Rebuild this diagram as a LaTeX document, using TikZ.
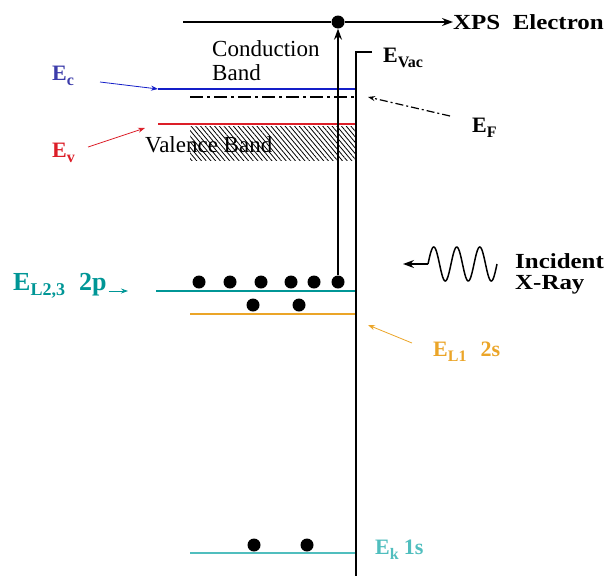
\documentclass[tikz,border=0pt]{standalone}
\usepackage{fontspec}
\setmainfont{Liberation Serif}
\newfontfamily\widebf[FakeStretch=1.16]{Liberation Serif}
\usetikzlibrary{arrows.meta,patterns.meta}
\definecolor{cblue}{RGB}{20,30,200}
\definecolor{clabelblue}{RGB}{60,60,170}
\definecolor{cred}{RGB}{220,30,40}
\definecolor{cteal}{RGB}{0,150,150}
\definecolor{corange}{RGB}{235,165,40}
\definecolor{ccyan}{RGB}{80,190,190}
\newcommand\sbs[1]{\raisebox{-5pt}{\fontsize{16}{16}\selectfont #1}}
\begin{document}
\begin{tikzpicture}[x=1pt,y=-1pt,
  electron/.style={circle,fill=black,inner sep=0pt,minimum size=13pt},
  level/.style={line width=2pt},
  lbl/.style={font=\fontsize{22}{24}\selectfont\bfseries, inner sep=0pt, anchor=west},
  widelbl/.style={font=\widebf\fontsize{21.5}{21}\selectfont\bfseries, inner sep=0pt, anchor=west, align=left},
  txt/.style={font=\fontsize{23}{24}\selectfont, inner sep=0pt, anchor=west, align=left},
  arr/.style={-{Stealth[length=11pt,width=8pt]}, line width=1.2pt},
  thinarr/.style={-{Stealth[length=7pt,width=5pt]}, line width=0.8pt},
  wall/.style={line width=1.4pt},
]
\useasboundingbox (0,0) rectangle (609,576);

% energy levels
\draw[level,cblue] (158,89) coordinate (ec0) -- (356,89) coordinate (ec1);
\draw[line width=1.5pt,dash pattern=on 13pt off 4pt on 3pt off 4pt] (190,97) coordinate (ef0) -- (356,97) coordinate (ef1);
\fill[pattern={Lines[angle=-50,distance=3.6pt,line width=0.8pt]}] (190,126) rectangle (356,160);
\draw[level,cred] (158,124) coordinate (ev0) -- (356,124) coordinate (ev1);
\draw[level,cteal] (156,291) coordinate (lp0) -- (356,291) coordinate (lp1);
\draw[level,corange] (190,314) coordinate (ls0) -- (356,314) coordinate (ls1);
\draw[level,ccyan] (190,553) coordinate (k0) -- (356,553) coordinate (k1);

% electrons
\foreach \n/\x in {1/199,2/230,3/261,4/291,5/314,6/338} \node[electron] (p\n) at (\x,282) {};
\node[electron] (s1) at (253,305) {};
\node[electron] (s2) at (299,305) {};
\node[electron] (k1e) at (254,545) {};
\node[electron] (k2e) at (307,545) {};
\node[electron] (xps) at (338,22) {};

% surface / vacuum
\coordinate (v0) at (372,52);
\coordinate (v1) at (356,52);
\coordinate (v2) at (356,576);
\draw[wall] (v0) -- (v1) -- (v2);

% electron path
\draw[arr] (p6.north) -- (xps.south);
\coordinate (tl) at (183,22);
\draw[line width=1.2pt] (tl) -- (xps.west);
\node[widelbl] (xpslbl) at (453,22) {XPS\ \ Electron};
\draw[arr] (xps.east) -- (xpslbl.west);

% texts
\node[txt] (cb) at (212,61) {Conduction\\Band};
\node[txt] (vb) at (145,145) {Valence Band};

% labels
\node[lbl,text=clabelblue] (eclbl) at (52,76) {E\sbs{c}};
\draw[thinarr,cblue] (100,82) -- (ec0);
\node[lbl,text=cred] (evlbl) at (52,153) {E\sbs{v}};
\draw[thinarr,cred] (88,147) -- (145,128);
\node[lbl] (evac) at (383,58) {E\sbs{Vac}};
\node[lbl] (eflbl) at (472,128) {E\sbs{F}};
\draw[thinarr,line width=1.2pt,dash pattern=on 8pt off 3pt on 2pt off 3pt] (450,116) -- (368,97);
\node[lbl,text=cteal,font=\fontsize{26}{26}\selectfont\bfseries] (lplbl) at (13,286) {E\raisebox{-5pt}{\fontsize{18}{18}\selectfont L2,3}\hspace{14pt}2p};
\coordinate (lparr) at (128,291);
\draw[thinarr,cteal] (lplbl.east |- lparr) ++(2,0) -- (lparr);
\node[lbl,text=corange] (lslbl) at (433,352) {E\sbs{L1}\hspace{14pt}2s};
\draw[thinarr,corange] (412,343) -- (368,325);
\node[lbl,text=ccyan] (klbl) at (375,550) {E\sbs{k}\hspace{5pt}1s};

% incident x-ray
\draw[line width=1.5pt] plot[domain=0:69,samples=120] ({428+\x},{264-17*sin(15.652*\x)});
\coordinate (w0) at (428,264);
\coordinate (wtip) at (403,264);
\draw[arr,line width=1.5pt] (w0) -- (wtip);
\node[widelbl] (xray) at (515,274) {Incident\\[0pt]X-Ray};
\end{tikzpicture}
\end{document}
